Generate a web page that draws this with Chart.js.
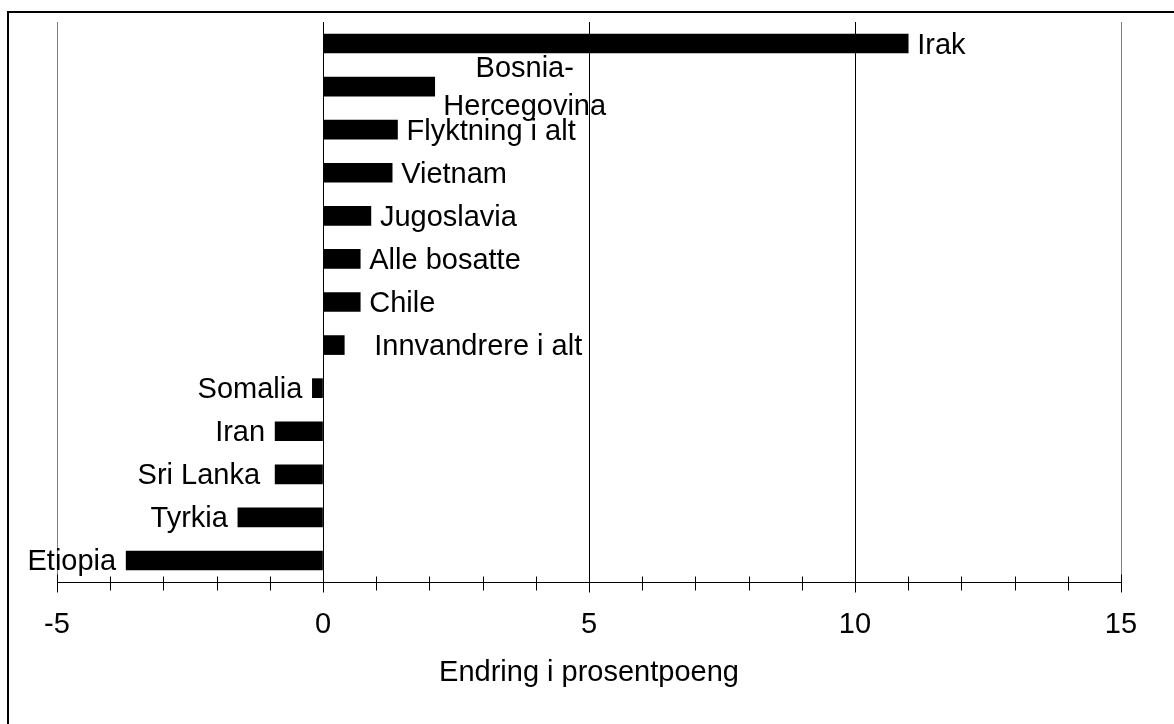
<!DOCTYPE html>
<html>
<head>
<meta charset="utf-8">
<script src="https://cdn.jsdelivr.net/npm/chart.js@4/dist/chart.umd.min.js"></script>
<style>
  html, body { margin: 0; padding: 0; background: #fff; }
  #wrap { width: 1174px; height: 724px; position: relative; }
</style>
</head>
<body>
<div id="wrap"><canvas id="c" width="1174" height="724"></canvas></div>
<script>
const categories = ['Irak', 'Bosnia-Hercegovina', 'Flyktning i alt', 'Vietnam', 'Jugoslavia',
  'Alle bosatte', 'Chile', 'Innvandrere i alt', 'Somalia', 'Iran', 'Sri Lanka', 'Tyrkia', 'Etiopia'];
const values = [11.0, 2.1, 1.4, 1.3, 0.9, 0.7, 0.7, 0.4, -0.2, -0.9, -0.9, -1.6, -3.7];
const labelLines = [['Irak'], ['Bosnia-', 'Hercegovina'], ['Flyktning i alt'], ['Vietnam'], ['Jugoslavia'],
  ['Alle bosatte'], ['Chile'], ['Innvandrere i alt'], ['Somalia'], ['Iran'], ['Sri Lanka'], ['Tyrkia'], ['Etiopia']];
const xMin = -5, xMax = 15, xStep = 1, majorStep = 5;
const axisTitle = 'Endring i prosentpoeng';

const FONT = "'Liberation Sans', Arial, sans-serif";
const FS = 29;

const decor = {
  id: 'decor',
  beforeDraw(chart) {
    const ctx = chart.ctx;
    ctx.save();
    ctx.fillStyle = '#fff';
    ctx.fillRect(0, 0, chart.width, chart.height);
    ctx.fillStyle = '#000';
    ctx.fillRect(7, 11, chart.width - 7, 2);
    ctx.fillRect(7, 11, 2, chart.height - 11);
    ctx.restore();
  },
  afterDatasetsDraw(chart) {
    const ctx = chart.ctx;
    const xs = chart.scales.x;
    const area = chart.chartArea;
    ctx.save();
    ctx.strokeStyle = '#000';
    ctx.lineWidth = 1;
    const ay = Math.round(area.bottom) + 0.5;
    ctx.beginPath();
    ctx.moveTo(xs.getPixelForValue(xMin), ay);
    ctx.lineTo(xs.getPixelForValue(xMax), ay);
    ctx.stroke();
    for (let v = xMin; v <= xMax; v += xStep) {
      const px = Math.round(xs.getPixelForValue(v)) + 0.5;
      const major = v % majorStep === 0;
      ctx.beginPath();
      ctx.moveTo(px, ay - (major ? 8 : 6));
      ctx.lineTo(px, ay + (major ? 10 : 8));
      ctx.stroke();
    }
    ctx.fillStyle = '#000';
    ctx.font = FS + 'px ' + FONT;
    const meta = chart.getDatasetMeta(0);
    meta.data.forEach((bar, i) => {
      const lines = labelLines[i];
      const v = values[i];
      const endX = bar.x;
      const cy = bar.y;
      ctx.textBaseline = 'alphabetic';
      if (lines.length > 1) {
        ctx.textAlign = 'center';
        ctx.fillText(lines[0], endX + 90, cy - 10);
        ctx.fillText(lines[1], endX + 90, cy + 28);
      } else if (v >= 0) {
        ctx.textAlign = 'left';
        const gap = categories[i] === 'Innvandrere i alt' ? 30 : 9;
        ctx.fillText(lines[0], endX + gap, cy + 10);
      } else {
        ctx.textAlign = 'right';
        const gap = categories[i] === 'Sri Lanka' ? 15 : 10;
        ctx.fillText(lines[0], endX - gap, cy + 10);
      }
    });
    ctx.restore();
  }
};

new Chart(document.getElementById('c'), {
  type: 'bar',
  data: {
    labels: categories,
    datasets: [{
      data: values,
      backgroundColor: '#000',
      borderWidth: 0,
      barThickness: 19
    }]
  },
  options: {
    indexAxis: 'y',
    responsive: false,
    animation: false,
    devicePixelRatio: 1,
    layout: { padding: { top: 22, left: 57, right: 53, bottom: 34 } },
    plugins: { legend: { display: false }, tooltip: { enabled: false }, title: { display: false } },
    scales: {
      y: { display: false, offset: true },
      x: {
        type: 'linear',
        min: xMin, max: xMax,
        border: { display: false },
        afterFit: (scale) => { scale.height = 108; },
        grid: {
          drawTicks: false,
          lineWidth: 1,
          color: (c) => {
            const v = c.tick ? c.tick.value : 0;
            if (v % majorStep !== 0) return 'rgba(0,0,0,0)';
            return (v === xMin || v === xMax) ? '#808080' : '#000';
          }
        },
        ticks: {
          stepSize: xStep,
          autoSkip: false,
          maxRotation: 0,
          padding: 26,
          color: '#000',
          font: { family: FONT, size: FS },
          callback: (v) => (v % majorStep === 0 ? String(v) : '')
        },
        title: {
          display: true,
          text: axisTitle,
          color: '#000',
          font: { family: FONT, size: FS },
          padding: { top: 0, bottom: 0 }
        }
      }
    }
  },
  plugins: [decor]
});
</script>
</body>
</html>
